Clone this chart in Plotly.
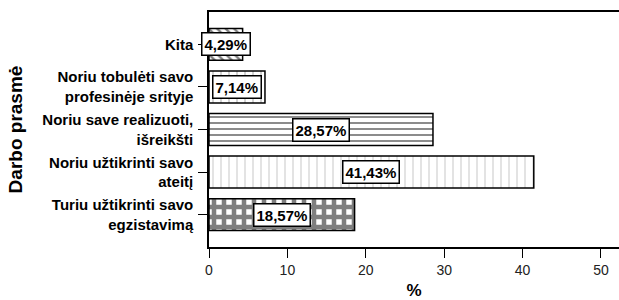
import plotly.graph_objects as go

categories = [
    "Turiu užtikrinti savo<br>egzistavimą",
    "Noriu užtikrinti savo<br>ateitį",
    "Noriu save realizuoti,<br>išreikšti",
    "Noriu tobulėti savo<br>profesinėje srityje",
    "Kita",
]
values = [18.57, 41.43, 28.57, 7.14, 4.29]
labels = ["18,57%", "41,43%", "28,57%", "7,14%", "4,29%"]
patterns = ["+", "|", "-", "|", "\\"]
pattern_sizes = [10, 8, 6, 8, 6]
pattern_solidity = [0.7, 0.12, 0.3, 0.12, 0.4]
pattern_colors = ["black", "#8a8a8a", "black", "#444444", "black"]
x_ticks = [0, 10, 20, 30, 40, 50]

FONT = "Liberation Sans, Arial, sans-serif"

fig = go.Figure()
fig.add_trace(go.Bar(
    y=categories, x=values, orientation="h",
    width=0.75,
    marker=dict(
        color="white",
        line=dict(color="black", width=1.5),
        pattern=dict(shape=patterns, size=pattern_sizes, solidity=pattern_solidity,
                     fgcolor=pattern_colors, bgcolor="white", fillmode="overlay"),
    ),
    hoverinfo="skip",
))

for c, v, t in zip(categories, values, labels):
    fig.add_annotation(
        x=v / 2, y=c, text="<b>" + t + "</b>", showarrow=False,
        font=dict(family=FONT, size=15, color="black"),
        bgcolor="white", bordercolor="black", borderwidth=1.5, borderpad=2,
    )

fig.add_annotation(
    xref="paper", yref="paper", x=-0.471, y=0.5, xanchor="center", yanchor="middle",
    text="<b>Darbo prasmė</b>", textangle=-90, showarrow=False,
    font=dict(family=FONT, size=19, color="black"),
)

fig.update_layout(
    width=619, height=300,
    margin=dict(l=209, r=0, t=12, b=53),
    paper_bgcolor="white", plot_bgcolor="white",
    showlegend=False,
    font=dict(family=FONT, color="black"),
    xaxis=dict(
        range=[0, 52.3], tickvals=x_ticks, showgrid=False, zeroline=False,
        showline=True, linecolor="black", linewidth=1.5, mirror=True,
        ticks="outside", ticklen=9, tickcolor="black",
        tickfont=dict(family=FONT, size=14, color="#222"),
        automargin=False,
        title=dict(text="<b>%</b>", font=dict(family=FONT, size=17, color="black"), standoff=8),
    ),
    yaxis=dict(
        range=[-0.76, 4.76], showgrid=False, zeroline=False,
        showline=True, linecolor="black", linewidth=1.5, mirror=False,
        ticks="outside", ticklen=9, tickcolor="black",
        tickfont=dict(family=FONT, size=15, color="black"),
        ticklabelstandoff=2,
        automargin=False,
    ),
)
fig.update_yaxes(tickvals=categories, ticktext=["<b>" + c + "</b>" for c in categories])

fig.write_html(
    "out.html",
    config={"displayModeBar": False},
    post_script="document.body.style.margin='0';document.body.style.overflow='hidden';",
)
